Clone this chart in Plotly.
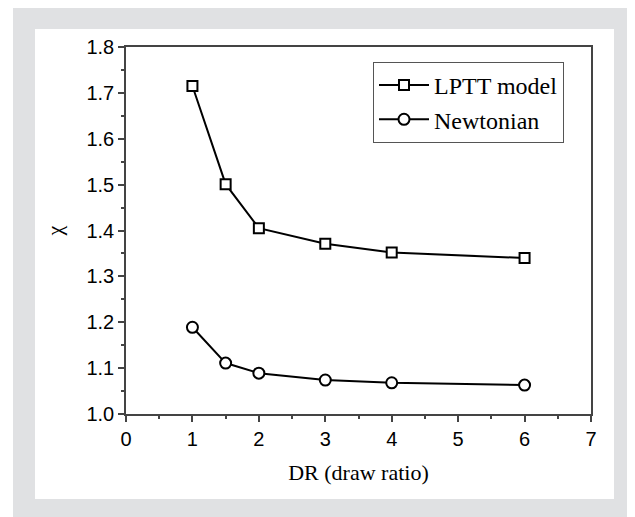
import plotly.graph_objects as go

dr = [1, 1.5, 2, 3, 4, 6]
lptt = [1.715, 1.501, 1.405, 1.371, 1.352, 1.340]
newtonian = [1.189, 1.111, 1.089, 1.074, 1.068, 1.063]

# page body has an 8px margin, so the figure is drawn offset by 8px
OFF = 8
W, H = 635 - OFF, 517 - OFF
L, R, T, B = 126 - OFF, 591 - OFF, 47 - OFF, 414 - OFF
pw, ph = R - L, B - T

def px(x):
    return (x - OFF - L) / pw

def py(y):
    return (B - (y - OFF)) / ph

fig = go.Figure()
fig.add_trace(go.Scatter(
    x=dr, y=lptt, name="LPTT model", mode="lines+markers",
    line=dict(color="black", width=2),
    marker=dict(symbol="square", size=10, color="white", line=dict(color="black", width=2)),
))
fig.add_trace(go.Scatter(
    x=dr, y=newtonian, name="Newtonian", mode="lines+markers",
    line=dict(color="black", width=2),
    marker=dict(symbol="circle", size=11, color="white", line=dict(color="black", width=2)),
))

shapes = [
    dict(type="rect", xref="paper", yref="paper", x0=px(13), x1=px(700), y0=py(600), y1=py(6),
         fillcolor="#e0e1e3", line=dict(width=0), layer="below"),
    dict(type="rect", xref="paper", yref="paper", x0=px(35), x1=px(614), y0=py(499), y1=py(29),
         fillcolor="white", line=dict(width=0), layer="below"),
]

fig.update_layout(
    width=W, height=H,
    margin=dict(l=L, r=W - R, t=T, b=H - B, autoexpand=False),
    paper_bgcolor="white", plot_bgcolor="rgba(0,0,0,0)",
    shapes=shapes,
    showlegend=True,
    legend=dict(
        x=px(373), y=py(62), xanchor="left", yanchor="top",
        font=dict(family="Liberation Serif, Times New Roman, serif", size=24, color="black"),
        bordercolor="#555", borderwidth=1, bgcolor="white",
        itemwidth=50, tracegroupgap=0,
    ),
    xaxis=dict(
        range=[0, 7], dtick=1, tick0=0,
        showgrid=False, zeroline=False,
        showline=True, linecolor="#444", linewidth=1.5, mirror=True,
        ticks="outside", ticklen=6, tickwidth=1.5, tickcolor="#444",
        minor=dict(dtick=0.5, ticks="outside", ticklen=3, tickwidth=1.5, tickcolor="#444", showgrid=False),
        tickfont=dict(family="Liberation Sans, Arial, sans-serif", size=20, color="black"),
        title=dict(text="DR (draw ratio)", standoff=16,
                   font=dict(family="Liberation Serif, Times New Roman, serif", size=22, color="black")),
    ),
    yaxis=dict(
        range=[1.0, 1.8], dtick=0.1, tick0=1.0, tickformat=".1f",
        showgrid=False, zeroline=False,
        showline=True, linecolor="#444", linewidth=1.5, mirror=True,
        ticks="outside", ticklen=6, tickwidth=1.5, tickcolor="#444",
        minor=dict(dtick=0.05, ticks="outside", ticklen=3, tickwidth=1.5, tickcolor="#444", showgrid=False),
        tickfont=dict(family="Liberation Sans, Arial, sans-serif", size=20, color="black"),
        title=dict(text="χ", standoff=18,
                   font=dict(family="Liberation Serif, Times New Roman, serif", size=22, color="black")),
    ),
)

fig.write_html("out.html")
